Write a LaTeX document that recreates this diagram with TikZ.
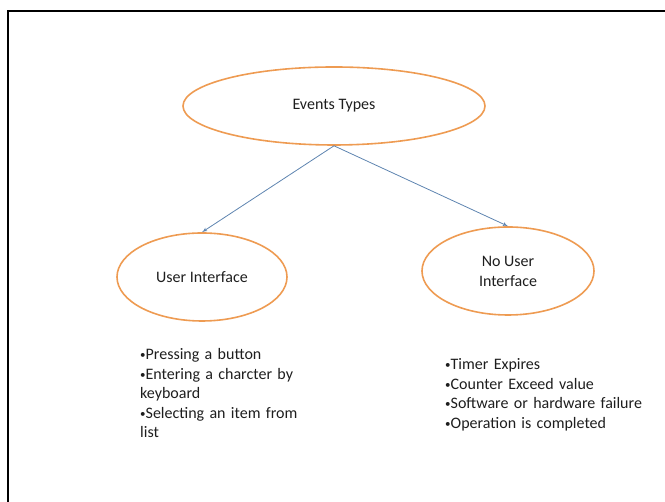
\documentclass[tikz,border=0pt]{standalone}
\usepackage{fontspec}
\setmainfont{Carlito}
\usepackage{tikz}
\usetikzlibrary{shapes, arrows}
\definecolor{eorange}{HTML}{EE9B52}
\definecolor{eblue}{HTML}{5E84B0}
\definecolor{etext}{HTML}{1E1E1E}
\newcommand{\bul}{{\fontsize{11}{11}\selectfont\raisebox{1.2pt}{•}}}
\tikzstyle{event} = [ellipse, draw=eorange, line width=1.6pt, inner sep=0pt, text=etext, align=center, font=\fontsize{16}{20}\selectfont]
\tikzstyle{items} = [inner sep=0pt, anchor=base west, align=left, text=etext, font=\fontsize{16}{19.5}\selectfont]
\tikzstyle{line} = [draw=eblue, line width=0.8pt, -latex']

\begin{document}
\begin{tikzpicture}[x=1pt, y=1pt]
    \useasboundingbox (0,0) rectangle (665,502);
    \draw[line width=2.2pt] (8,0) |- (665,491);

    \node[event, minimum width=302pt, minimum height=78pt] (types) at (334,396) {Events Types};
    \node[event, minimum width=170pt, minimum height=88pt] (user) at (202,225) {User Interface};
    \node[event, minimum width=172pt, minimum height=88pt] (nouser) at (508,231) {No User\\Interface};

    \path[line] (types.south) -- (user.north);
    \path[line] (types.south) -- (nouser.north);

    \node[items, text width=200pt] (userlist) at (140,142) {%
        \bul Pressing a button\\
        \bul Entering a charcter by\\
        keyboard\\
        \bul Selecting an item from\\
        list};
    \node[items, text width=215pt] (nouserlist) at (445,132) {%
        \bul Timer Expires\\
        \bul Counter Exceed value\\
        \bul Software or hardware failure\\
        \bul Operation is completed};
\end{tikzpicture}
\end{document}
